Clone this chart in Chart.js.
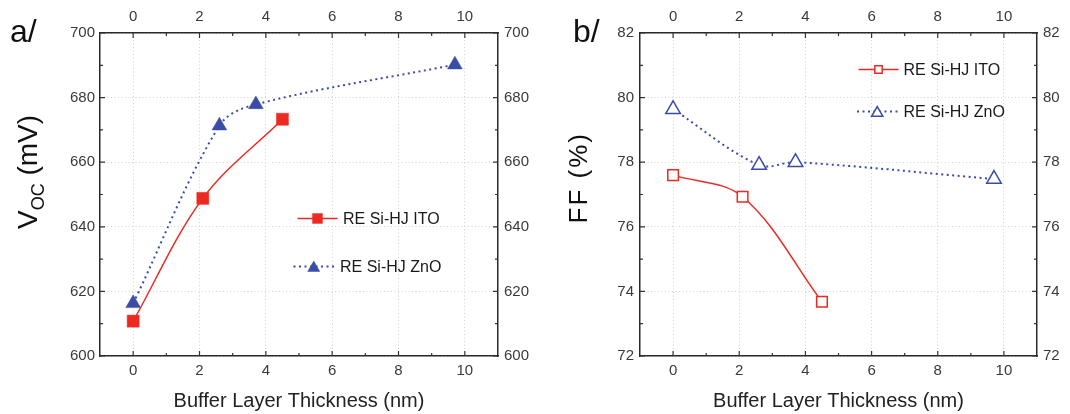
<!DOCTYPE html>
<html><head><meta charset="utf-8">
<script src="https://cdn.jsdelivr.net/npm/chart.js@4.4.1/dist/chart.umd.min.js"></script>
<style>
html,body{margin:0;padding:0;background:#fff;}
#wrap{position:relative;width:1070px;height:414px;overflow:hidden;}
.pane{position:absolute;top:0;width:535px;height:414px;}
canvas{display:block;}
</style></head><body>
<div id="wrap">
<div class="pane" style="left:0"><canvas id="ca" width="535" height="414"></canvas></div>
<div class="pane" style="left:535px"><canvas id="cb" width="535" height="414"></canvas></div>
</div>
<script>
// ---- data ----
const thicknessITO = [0, 2.1, 4.5];
const thicknessZnO = [0, 2.6, 3.7, 9.7];
const vocITO = [610.8, 648.8, 673.3];
const vocZnO = [616.3, 671.3, 677.9, 690.2];
const ffITO = [77.60, 76.93, 73.68];
const ffZnO = [79.64, 77.91, 78.0, 77.48];
const seriesNames = ['RE Si-HJ ITO', 'RE Si-HJ ZnO'];
const xTickValues = [0, 2, 4, 6, 8, 10];
const xMinorValues = [1, 3, 5, 7, 9];
const vocTickValues = [600, 620, 640, 660, 680, 700];
const vocMinorValues = [610, 630, 650, 670, 690];
const ffTickValues = [72, 74, 76, 78, 80, 82];
const ffMinorValues = [73, 75, 77, 79, 81];
const xAxisTitle = 'Buffer Layer Thickness (nm)';
const panelLabels = ['a/', 'b/'];

const FONT = '"Liberation Sans", Arial, Helvetica, sans-serif';
const RED = '#ec2a22';
const BLUE = '#3a4da6';
Chart.defaults.font.family = FONT;

function pts(xs, ys) { return xs.map((x, i) => ({x: x, y: ys[i]})); }

function drawMarker(ctx, style, x, y, r, fill, stroke, bw) {
  ctx.save();
  ctx.setLineDash([]);
  ctx.beginPath();
  if (style === 'rect') {
    const s = r * Math.SQRT1_2;
    ctx.rect(x - s, y - s, 2 * s, 2 * s);
  } else {
    const h = r * Math.sin(Math.PI / 3);
    ctx.moveTo(x, y - r);
    ctx.lineTo(x + h, y + r / 2);
    ctx.lineTo(x - h, y + r / 2);
    ctx.closePath();
  }
  ctx.fillStyle = fill; ctx.fill();
  if (bw > 0) { ctx.lineWidth = bw; ctx.strokeStyle = stroke; ctx.stroke(); }
  ctx.restore();
}

const decor = {
  id: 'decor',
  afterDraw(chart, args, o) {
    const ctx = chart.ctx;
    const {left, right, top, bottom} = chart.chartArea;
    const xs = chart.scales.x, ys = chart.scales.y;
    ctx.save();
    // inward ticks
    ctx.strokeStyle = '#333'; ctx.lineWidth = 1.2; ctx.setLineDash([]);
    ctx.beginPath();
    const xt = (vals, len) => vals.forEach(v => {
      const px = xs.getPixelForValue(v);
      ctx.moveTo(px, bottom); ctx.lineTo(px, bottom - len);
      ctx.moveTo(px, top); ctx.lineTo(px, top + len);
    });
    const yt = (vals, len) => vals.forEach(v => {
      const py = ys.getPixelForValue(v);
      ctx.moveTo(left, py); ctx.lineTo(left + len, py);
      ctx.moveTo(right, py); ctx.lineTo(right - len, py);
    });
    xt(xTickValues, 5); xt(xMinorValues, 3);
    yt(o.yTicks, 5); yt(o.yMinor, 3);
    ctx.stroke();

    // x axis title
    ctx.fillStyle = '#222';
    ctx.font = '20px ' + FONT;
    ctx.textAlign = 'center'; ctx.textBaseline = 'middle';
    ctx.fillText(xAxisTitle, (left + right) / 2, 401);

    // panel label
    ctx.fillStyle = '#111';
    ctx.font = '32px ' + FONT;
    ctx.textAlign = 'left'; ctx.textBaseline = 'alphabetic';
    ctx.fillText(o.panel, o.panelX, 42);

    // y axis title (rotated)
    ctx.save();
    ctx.translate(o.yTitleX, o.yTitleY);
    ctx.rotate(-Math.PI / 2);
    ctx.textAlign = 'left'; ctx.textBaseline = 'alphabetic';
    ctx.fillStyle = '#111';
    let cx = 0;
    o.yTitle.forEach(part => {
      ctx.font = part.size + 'px ' + FONT;
      if ('letterSpacing' in ctx) ctx.letterSpacing = (part.ls || 0) + 'px';
      ctx.fillText(part.t, cx, part.dy || 0);
      cx += ctx.measureText(part.t).width;
    });
    if ('letterSpacing' in ctx) ctx.letterSpacing = '0px';
    ctx.restore();

    // legend
    chart.data.datasets.forEach((ds, i) => {
      const L = o.legend[i];
      ctx.save();
      ctx.strokeStyle = ds.borderColor;
      ctx.lineWidth = ds.borderWidth;
      ctx.setLineDash(ds.borderDash || []);
      ctx.beginPath(); ctx.moveTo(L.x0, L.y); ctx.lineTo(L.x1, L.y); ctx.stroke();
      ctx.restore();
      drawMarker(ctx, ds.pointStyle, (L.x0 + L.x1) / 2, L.y + (ds.pointStyle === 'triangle' ? 1.5 : 0), L.r,
        ds.pointBackgroundColor, ds.pointBorderColor, ds.pointBorderWidth);
      ctx.fillStyle = '#1a1a1a';
      ctx.font = '16px ' + FONT;
      ctx.textAlign = 'left'; ctx.textBaseline = 'middle';
      ctx.fillText(ds.label, L.tx, L.y + 1);
    });
    ctx.restore();
  }
};

function makeScales(yMin, yMax, yTicks, sz) {
  const tickFont = {family: FONT, size: 15};
  const setX = s => { s.ticks = xTickValues.map(v => ({value: v})); };
  const setY = s => { s.ticks = yTicks.map(v => ({value: v})); };
  const grid = {color: '#d2d2d2', lineWidth: 1, drawTicks: false};
  const border = {color: '#2a2a2a', width: 1.5, dash: [1, 2.5]};
  return {
    x: {type: 'linear', position: 'bottom', min: -1, max: 11, afterBuildTicks: setX,
        afterFit: s => { s.height = sz.bottom; }, grid: grid, border: border,
        ticks: {font: tickFont, color: '#3a3a3a', padding: 6, maxRotation: 0, autoSkip: false}},
    x2: {type: 'linear', axis: 'x', position: 'top', min: -1, max: 11, afterBuildTicks: setX,
        afterFit: s => { s.height = sz.top; }, grid: {drawOnChartArea: false, drawTicks: false}, border: border,
        ticks: {font: tickFont, color: '#3a3a3a', padding: 7, maxRotation: 0, autoSkip: false}},
    y: {type: 'linear', position: 'left', min: yMin, max: yMax, afterBuildTicks: setY,
        afterFit: s => { s.width = sz.left; }, grid: grid, border: border,
        ticks: {font: tickFont, color: '#3a3a3a', padding: sz.lp, autoSkip: false}},
    y2: {type: 'linear', axis: 'y', position: 'right', min: yMin, max: yMax, afterBuildTicks: setY,
        afterFit: s => { s.width = sz.right; }, grid: {drawOnChartArea: false, drawTicks: false}, border: border,
        ticks: {font: tickFont, color: '#3a3a3a', padding: 6, autoSkip: false}}
  };
}

function makeChart(id, cfg) {
  return new Chart(document.getElementById(id), {
    type: 'line',
    data: {datasets: [
      {label: seriesNames[0], data: pts(thicknessITO, cfg.ito), borderColor: RED, backgroundColor: RED,
       borderWidth: 1.5, tension: 0.35, pointStyle: 'rect', pointRadius: cfg.rRect,
       pointBackgroundColor: cfg.hollow ? '#ffffff' : RED, pointBorderColor: RED, pointBorderWidth: cfg.hollow ? 1.5 : 0.5},
      {label: seriesNames[1], data: pts(thicknessZnO, cfg.zno), borderColor: BLUE, backgroundColor: BLUE,
       borderWidth: 2, borderDash: [2, 3.5], tension: 0.35, pointStyle: 'triangle', pointRadius: cfg.rTri,
       pointBackgroundColor: cfg.hollow ? '#ffffff' : BLUE, pointBorderColor: BLUE, pointBorderWidth: cfg.hollow ? 1.5 : 0.5}
    ]},
    options: {
      responsive: false, animation: false, devicePixelRatio: 1, events: [],
      layout: {padding: 0},
      scales: makeScales(cfg.yMin, cfg.yMax, cfg.yTicks, cfg.sz),
      plugins: {legend: {display: false}, tooltip: {enabled: false},
        decor: cfg.decor}
    },
    plugins: [decor]
  });
}

makeChart('ca', {
  ito: vocITO, zno: vocZnO, yMin: 600, yMax: 700, yTicks: vocTickValues,
  rRect: 8.5, rTri: 8.5, hollow: false,
  sz: {left: 100, right: 37, top: 33, bottom: 58, lp: 5},
  decor: {
    yTicks: vocTickValues, yMinor: vocMinorValues,
    panel: panelLabels[0], panelX: 10,
    yTitleX: 36.5, yTitleY: 229,
    yTitle: [{t: 'V', size: 28}, {t: 'OC', size: 18, dy: 7}, {t: ' (mV)', size: 28}],
    legend: [{x0: 297.5, x1: 337.5, y: 218.5, r: 7, tx: 343},
             {x0: 293.5, x1: 334, y: 266.5, r: 7, tx: 340}]
  }
});

makeChart('cb', {
  ito: ffITO, zno: ffZnO, yMin: 72, yMax: 82, yTicks: ffTickValues,
  rRect: 7.5, rTri: 8.4, hollow: true,
  sz: {left: 105, right: 33, top: 33, bottom: 58, lp: 6},
  decor: {
    yTicks: ffTickValues, yMinor: ffMinorValues,
    panel: panelLabels[1], panelX: 38,
    yTitleX: 52, yTitleY: 223.5,
    yTitle: [{t: 'FF (%)', size: 26, ls: 2}],
    legend: [{x0: 323.5, x1: 363.5, y: 69.5, r: 5.2, tx: 368.5},
             {x0: 322, x1: 362.5, y: 111.5, r: 6.5, tx: 368.5}]
  }
});
</script>
</body></html>
